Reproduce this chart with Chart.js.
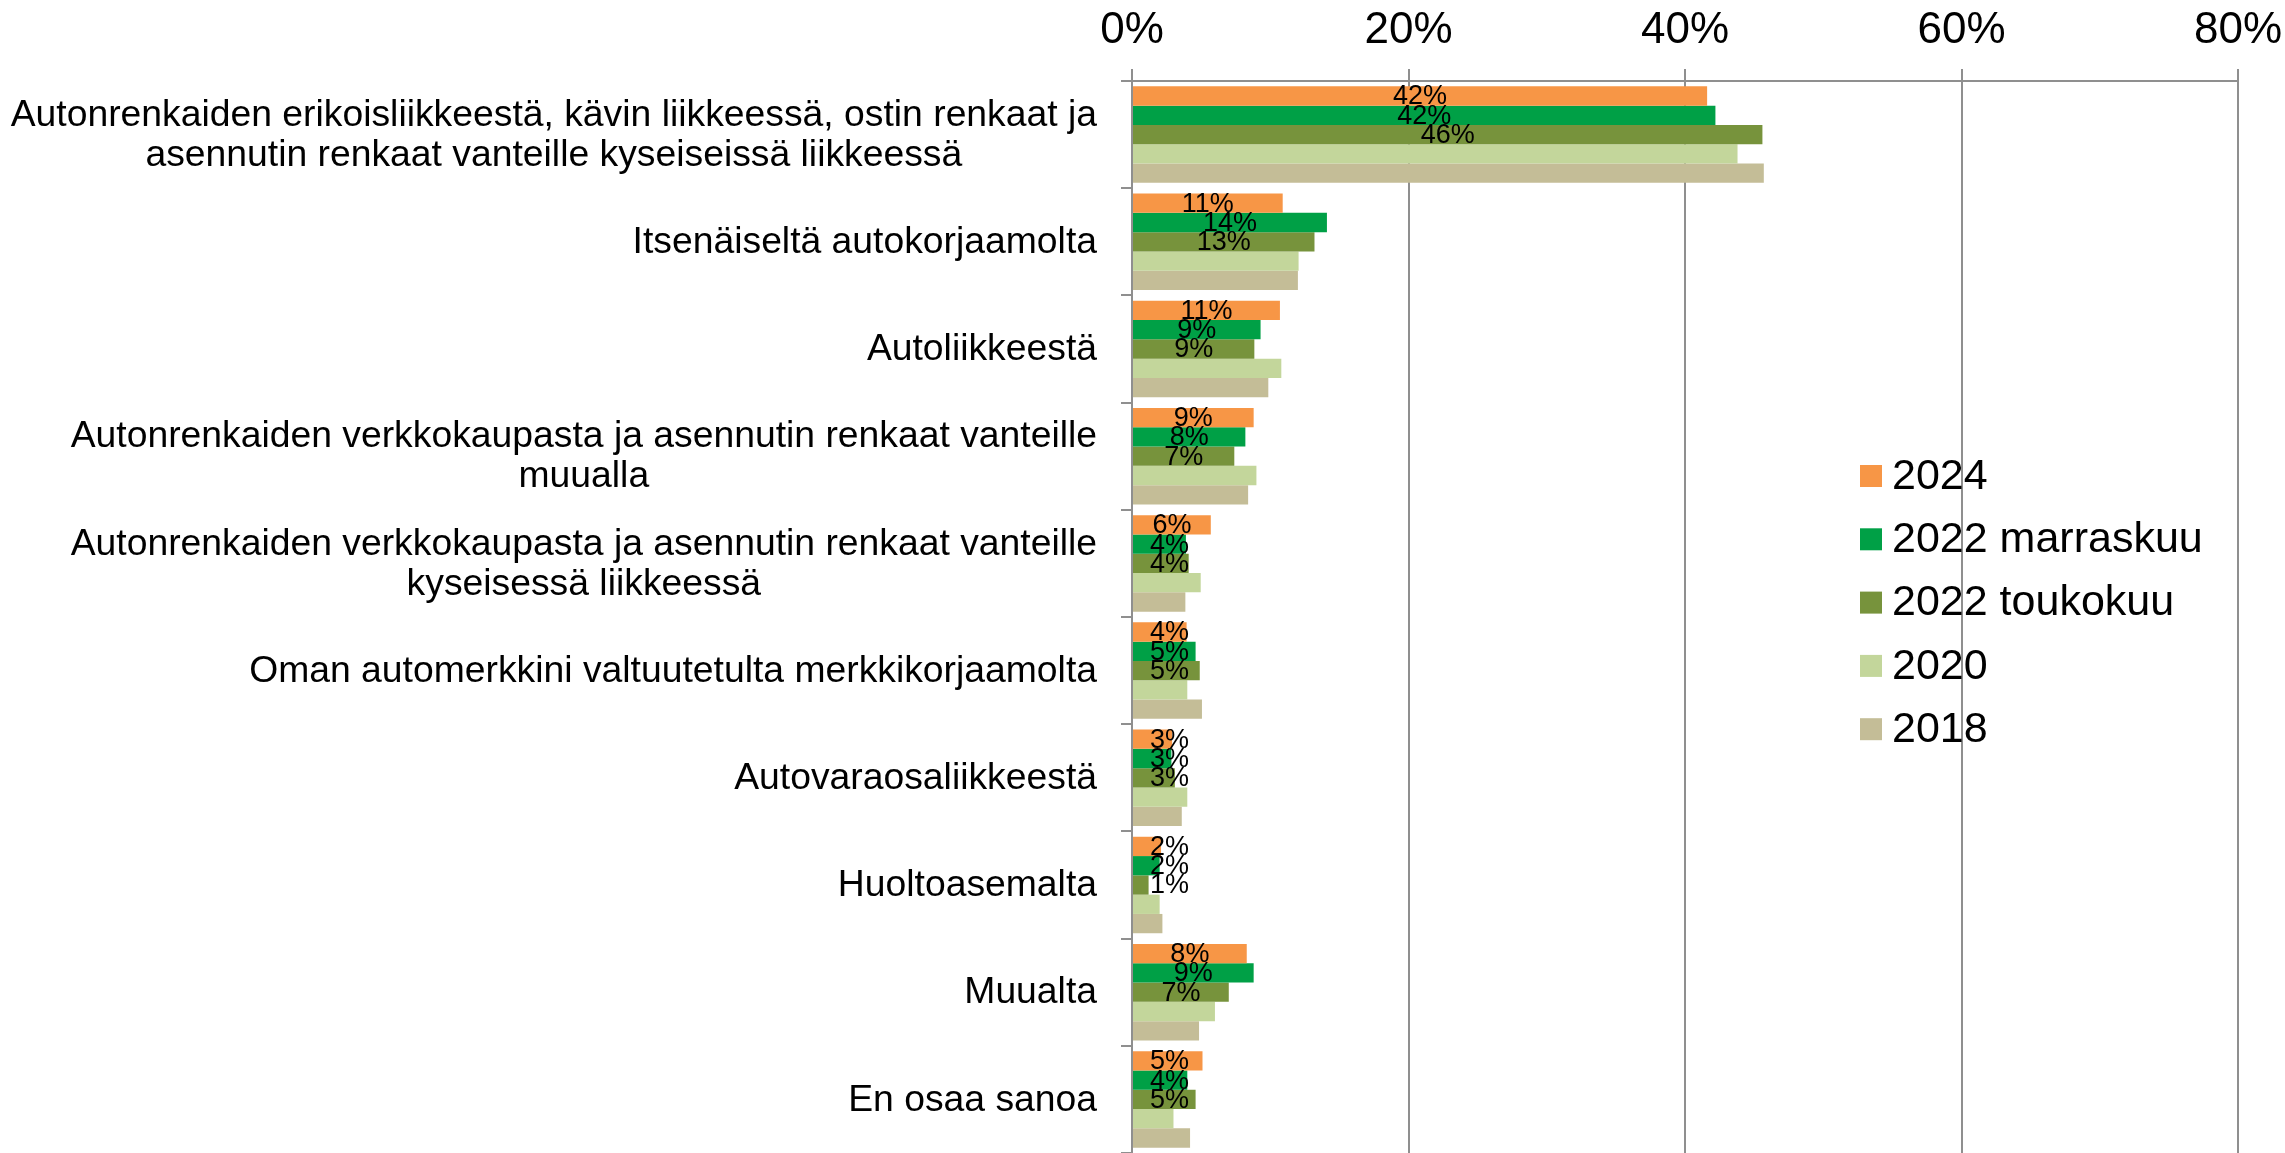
<!DOCTYPE html>
<html><head><meta charset="utf-8">
<script src="https://cdn.jsdelivr.net/npm/chart.js@4.4.1/dist/chart.umd.min.js"></script>
<style>html,body{margin:0;padding:0;background:#fff}#wrap{width:2285px;height:1153px;position:relative}</style>
</head><body><div id="wrap"><canvas id="c" width="2285" height="1153"></canvas></div>
<script>
const categories = [
  ["Autonrenkaiden erikoisliikkeestä, kävin liikkeessä, ostin renkaat ja", "asennutin renkaat vanteille kyseiseissä liikkeessä"],
  ["Itsenäiseltä autokorjaamolta"],
  ["Autoliikkeestä"],
  ["Autonrenkaiden verkkokaupasta ja asennutin renkaat vanteille", "muualla"],
  ["Autonrenkaiden verkkokaupasta ja asennutin renkaat vanteille", "kyseisessä liikkeessä"],
  ["Oman automerkkini valtuutetulta merkkikorjaamolta"],
  ["Autovaraosaliikkeestä"],
  ["Huoltoasemalta"],
  ["Muualta"],
  ["En osaa sanoa"]
];
const seriesNames = ["2024", "2022 marraskuu", "2022 toukokuu", "2020", "2018"];
const v2024    = [41.6, 10.9, 10.7, 8.8, 5.7, 3.95, 2.9, 2.1, 8.3, 5.1];
const v2022nov = [42.2, 14.1, 9.3, 8.2, 3.9, 4.6, 2.85, 2.0, 8.8, 4.0];
const v2022may = [45.6, 13.2, 8.85, 7.4, 4.1, 4.9, 3.1, 1.2, 7.0, 4.6];
const v2020    = [43.8, 12.05, 10.8, 9.0, 4.97, 4.0, 4.0, 2.0, 6.0, 3.0];
const v2018    = [45.7, 12.0, 9.86, 8.4, 3.86, 5.06, 3.6, 2.2, 4.85, 4.2];
const xTicks = [0, 20, 40, 60, 80];
const labeledSeries = [0, 1, 2];

const FONT = '"Liberation Sans", Arial, sans-serif';
const colors = ["#F79646", "#00A046", "#77933C", "#C3D69B", "#C4BD97"];
const seriesValues = [v2024, v2022nov, v2022may, v2020, v2018];
const GRID = "#8f8f8f";

const dataLabelPlugin = {
  id: "dataLabels",
  afterDatasetsDraw(chart) {
    const ctx = chart.ctx;
    ctx.save();
    ctx.font = "27px " + FONT;
    ctx.fillStyle = "#000";
    ctx.textAlign = "center";
    ctx.textBaseline = "middle";
    labeledSeries.forEach(di => {
      const meta = chart.getDatasetMeta(di);
      meta.data.forEach((bar, i) => {
        const p = bar.getProps(["x", "y", "base"], true);
        const txt = Math.round(chart.data.datasets[di].data[i]) + "%";
        const w = ctx.measureText(txt).width;
        const cx = Math.max((p.x + p.base) / 2, p.base + 17 + w / 2);
        ctx.fillText(txt, cx, p.y + 1);
      });
    });
    ctx.restore();
  }
};

const catLabelPlugin = {
  id: "catLabels",
  afterDraw(chart) {
    const ctx = chart.ctx;
    const ys = chart.scales.y;
    ctx.save();
    ctx.font = "37.3px " + FONT;
    ctx.fillStyle = "#000";
    ctx.textAlign = "center";
    ctx.textBaseline = "middle";
    const right = chart.chartArea.left - 35;
    const lh = 40;
    chart.data.labels.forEach((lines, i) => {
      const y = ys.getPixelForValue(i);
      const bw = Math.max(...lines.map(l => ctx.measureText(l).width));
      const cx = right - bw / 2;
      lines.forEach((l, j) => {
        ctx.fillText(l, cx, y + (j - (lines.length - 1) / 2) * lh + 1);
      });
    });
    ctx.restore();
  }
};

const legendPlugin = {
  id: "customLegend",
  afterDraw(chart) {
    const ctx = chart.ctx;
    ctx.save();
    ctx.font = "43px " + FONT;
    ctx.textAlign = "left";
    ctx.textBaseline = "middle";
    const x0 = 1860, y0 = 476, step = 63.3, box = 22;
    chart.data.datasets.forEach((ds, i) => {
      const y = y0 + i * step;
      ctx.fillStyle = ds.backgroundColor;
      ctx.fillRect(x0, y - box / 2, box, box);
      ctx.fillStyle = "#000";
      ctx.fillText(ds.label, x0 + 32, y + 1);
    });
    ctx.restore();
  }
};

new Chart(document.getElementById("c"), {
  type: "bar",
  data: {
    labels: categories,
    datasets: seriesNames.map((n, i) => ({
      label: n,
      data: seriesValues[i],
      backgroundColor: colors[i],
      borderWidth: 0,
      categoryPercentage: 0.9,
      barPercentage: 1.0
    }))
  },
  options: {
    indexAxis: "y",
    responsive: false,
    animation: false,
    layout: { padding: { left: 0, right: 47, top: 0, bottom: 0 } },
    plugins: { legend: { display: false }, tooltip: { enabled: false } },
    scales: {
      x: {
        position: "top",
        min: 0, max: 80,
        afterBuildTicks: s => { s.ticks = xTicks.map(v => ({ value: v })); },
        afterFit: s => { s.height = 81; s.paddingLeft = 0; s.paddingRight = 0; },
        ticks: {
          callback: v => v + "%",
          font: { family: FONT, size: 44 },
          color: "#000",
          padding: 12,
          maxRotation: 0
        },
        grid: { color: GRID, lineWidth: 2, tickLength: 12, drawOnChartArea: true },
        border: { display: true, color: GRID, width: 2 }
      },
      y: {
        afterFit: s => { s.width = 1132; s.paddingTop = 0; s.paddingBottom = 0; },
        ticks: { display: false },
        grid: { color: GRID, lineWidth: 2, tickLength: 11, drawOnChartArea: false, offset: true },
        border: { display: true, color: GRID, width: 2 }
      }
    }
  },
  plugins: [dataLabelPlugin, catLabelPlugin, legendPlugin]
});
</script>
</body></html>
